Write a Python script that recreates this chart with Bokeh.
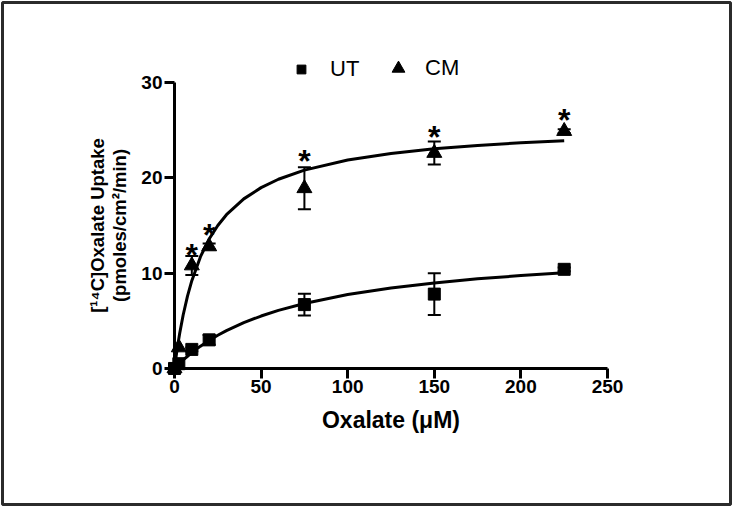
from bokeh.plotting import figure
from bokeh.models import (Range1d, FixedTicker, Whisker, TeeHead, ColumnDataSource,
                          Legend, LegendItem)
from bokeh.core.properties import value
from bokeh.embed import file_html
from bokeh.resources import INLINE

# ---- data ----
conc = [0, 2.5, 10, 20, 75, 150, 225]
ut_mean = [0, 0.5, 2.0, 3.0, 6.7, 7.8, 10.4]
ut_err = [0, 0, 0.2, 0.5, 1.15, 2.2, 0.2]
cm_mean = [0, 2.2, 10.8, 12.8, 18.9, 22.6, 24.9]
cm_err = [0, 0, 1.0, 0.3, 2.2, 1.2, 0.2]

# fitted curves
fit_x = [0, 1, 2, 3, 5, 7.5, 10, 15, 20, 25, 30, 40, 50, 60, 75, 100, 125, 150, 175, 200, 225]
cm_fit = [0, 1.36, 2.58, 3.69, 5.61, 7.59, 9.21, 11.73, 13.58, 15.0, 16.13, 17.79, 18.97,
          19.85, 20.81, 21.86, 22.55, 23.04, 23.39, 23.67, 23.89]
ut_fit = [0, 0.19, 0.37, 0.55, 0.89, 1.28, 1.66, 2.34, 2.94, 3.48, 3.97, 4.81, 5.50,
          6.09, 6.82, 7.75, 8.44, 8.97, 9.40, 9.74, 10.03]

# significance stars
star_x = [10, 20, 75, 150, 225]
star_y = [12.4, 14.5, 22.3, 24.8, 26.6]

x_ticks = [0, 50, 100, 150, 200, 250]
y_ticks = [0, 10, 20, 30]

FONT = "Liberation Sans"

p = figure(width=732, height=506,
           x_range=Range1d(-99.31, 321.02), y_range=Range1d(-14.27, 38.39),
           output_backend="svg", toolbar_location=None, min_border=2)
p.outline_line_color = "#2b2b2b"
p.outline_line_width = 3
p.grid.visible = False
p.background_fill_color = "white"
p.border_fill_color = "white"

for ax in (p.xaxis[0], p.yaxis[0]):
    ax.fixed_location = 0
    ax.axis_line_width = 3
    ax.major_tick_line_width = 3
    ax.major_tick_out = 10
    ax.major_tick_in = 0
    ax.minor_tick_line_color = None
    ax.major_label_text_font = FONT
    ax.major_label_text_font_style = "bold"
    ax.major_label_text_font_size = "19px"
    ax.major_label_text_color = "black"
    ax.major_label_standoff = 2
    ax.axis_label_text_font = FONT
    ax.axis_label_text_font_style = "bold"
    ax.axis_label_text_color = "black"
    ax.axis_line_color = "black"
    ax.major_tick_line_color = "black"

p.xaxis[0].bounds = (0, 250)
p.yaxis[0].bounds = (0, 30)
p.xaxis[0].ticker = FixedTicker(ticks=x_ticks)
p.yaxis[0].ticker = FixedTicker(ticks=y_ticks)
p.xaxis[0].axis_label = "Oxalate (\u03bcM)"
p.xaxis[0].axis_label_text_font_size = "23px"
p.xaxis[0].axis_label_standoff = 10
p.yaxis[0].axis_label = "[\u00b9\u2074C]Oxalate Uptake\n(pmoles/cm\u00b2/min)"
p.yaxis[0].axis_label_text_font_size = "18.5px"
p.yaxis[0].axis_label_standoff = 8
p.yaxis[0].axis_label_text_line_height = 1.05

# curves
p.line(fit_x, cm_fit, line_width=3, color="black")
p.line(fit_x, ut_fit, line_width=3, color="black")

# error bars
def whisk(mean, err):
    xs = [c for c, e in zip(conc, err) if e > 0]
    lo = [m - e for m, e in zip(mean, err) if e > 0]
    hi = [m + e for m, e in zip(mean, err) if e > 0]
    src = ColumnDataSource(dict(x=xs, lo=lo, hi=hi))
    w = Whisker(base="x", lower="lo", upper="hi", source=src, line_width=2, line_color="black",
                upper_head=TeeHead(size=13, line_width=2, line_color="black"),
                lower_head=TeeHead(size=13, line_width=2, line_color="black"),
                level="underlay")
    p.add_layout(w)

whisk(ut_mean, ut_err)
whisk(cm_mean, cm_err)

r_ut = p.scatter(conc, ut_mean, marker="square", size=12, color="black")
r_cm = p.scatter(conc, cm_mean, marker="triangle", size=15, color="black")

p.text(x=star_x, y=star_y, text=["*"] * len(star_x), text_font=value(FONT),
       text_font_style="bold", text_font_size="32px", text_align="center",
       text_baseline="middle", y_offset=5, text_color="black")

def mk_legend(label, rend, loc, gsize, standoff):
    lg = Legend(items=[LegendItem(label=label, renderers=[rend])], location=loc,
                orientation="horizontal", glyph_width=gsize, glyph_height=gsize,
                label_standoff=standoff, padding=0, margin=0, spacing=0,
                border_line_color=None, background_fill_alpha=0,
                label_text_font=FONT, label_text_font_size="22px", label_text_color="black")
    p.add_layout(lg)

mk_legend("UT", r_ut, (288, 422), 22, 18)
mk_legend("CM", r_cm, (380, 420), 32, 11)

open("out.html", "w").write(file_html(p, INLINE))
